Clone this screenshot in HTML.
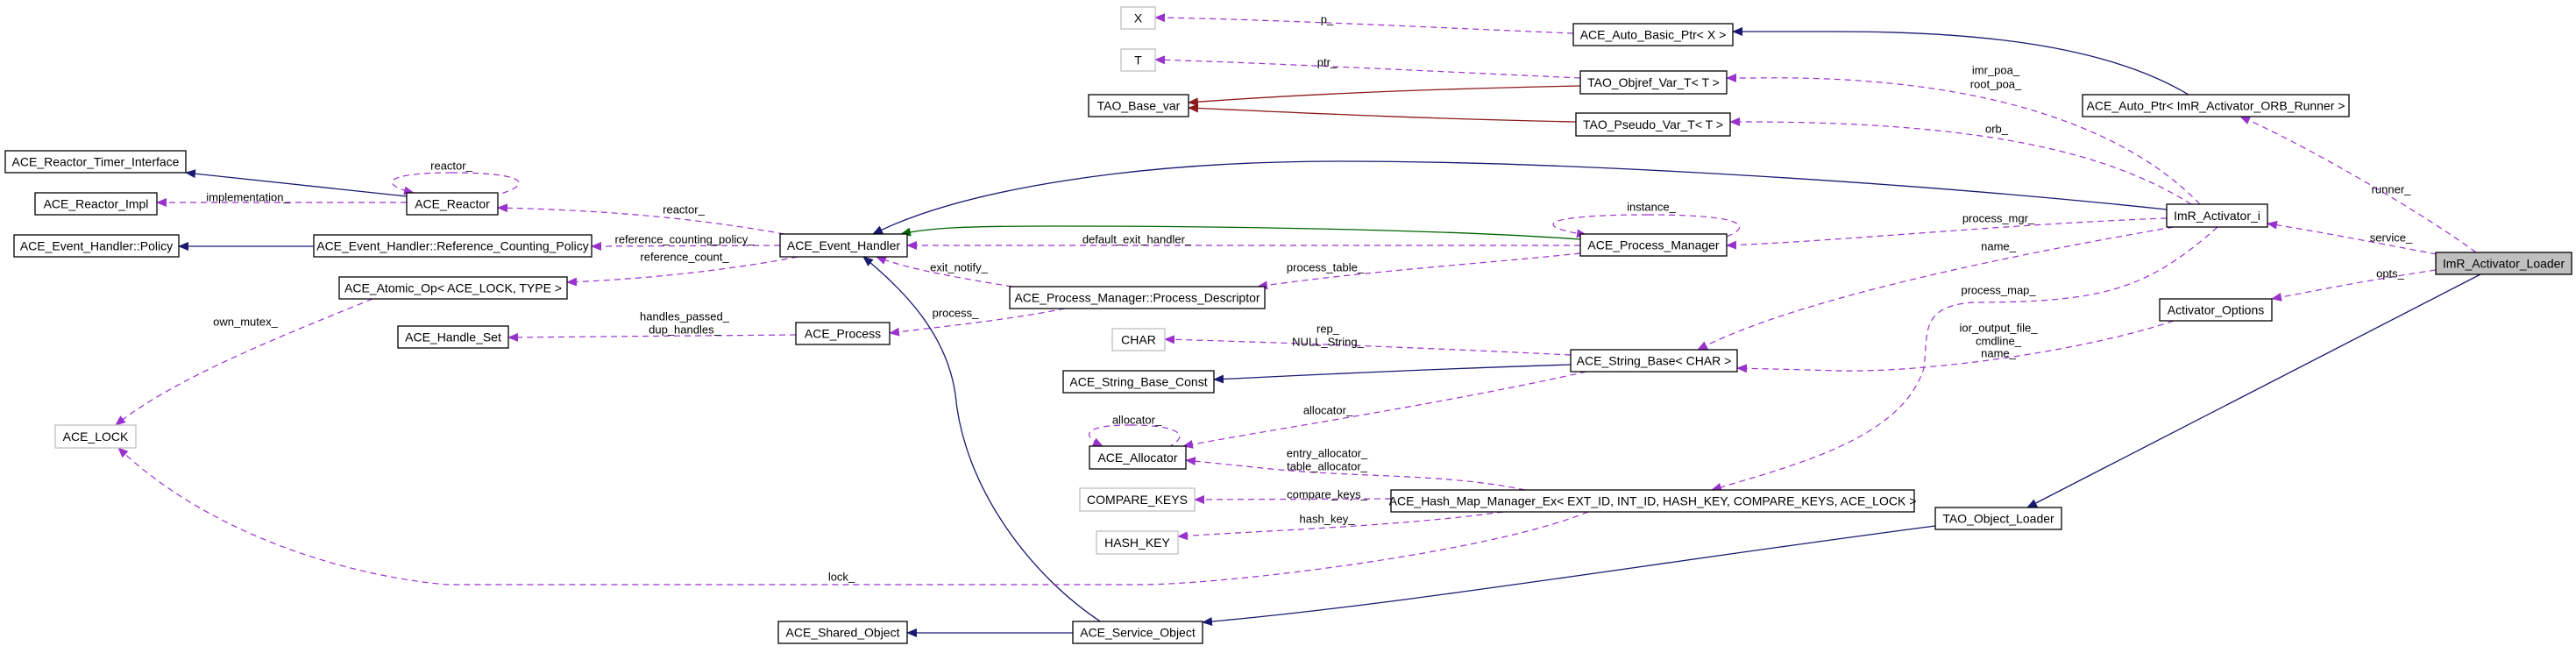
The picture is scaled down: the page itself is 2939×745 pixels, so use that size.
<!DOCTYPE html>
<html><head><meta charset="utf-8"><style>
html,body{margin:0;padding:0;background:#fff;}
svg{display:block;}
text{font-family:"Liberation Sans",sans-serif;}
.n{font-size:14px;text-anchor:middle;dominant-baseline:central;fill:#000;}
.l{font-size:13px;text-anchor:middle;dominant-baseline:central;fill:#000;}
.b{fill:#fff;stroke:#000;stroke-width:1.3;}
.g{fill:#fff;stroke:#bfbfbf;stroke-width:1.3;}
.d{fill:none;stroke:#9a32cd;stroke-width:1.2;stroke-dasharray:7,5;}
.s{fill:none;stroke:#191970;stroke-width:1.3;}
.gr{fill:none;stroke:#006400;stroke-width:1.3;}
.r{fill:none;stroke:#8b1a1a;stroke-width:1.3;}
</style></head><body>
<svg width="2939" height="745" viewBox="0 0 2939 745" xmlns="http://www.w3.org/2000/svg">
<defs>
<marker id="mp" markerWidth="12" markerHeight="10" refX="11" refY="5" orient="auto" markerUnits="userSpaceOnUse"><path d="M0,0 L12,5 L0,10 z" fill="#9a32cd"/></marker>
<marker id="mb" markerWidth="12" markerHeight="10" refX="11" refY="5" orient="auto" markerUnits="userSpaceOnUse"><path d="M0,0 L12,5 L0,10 z" fill="#191970"/></marker>
<marker id="mg" markerWidth="12" markerHeight="10" refX="11" refY="5" orient="auto" markerUnits="userSpaceOnUse"><path d="M0,0 L12,5 L0,10 z" fill="#006400"/></marker>
<marker id="mr" markerWidth="12" markerHeight="10" refX="11" refY="5" orient="auto" markerUnits="userSpaceOnUse"><path d="M0,0 L12,5 L0,10 z" fill="#8b1a1a"/></marker>
</defs>

<!-- edges -->
<path class="d" marker-end="url(#mp)" d="M1795,38 C1650,32 1450,22 1318,20"/>
<path class="d" marker-end="url(#mp)" d="M1803,89 C1650,82 1450,72 1318,68"/>
<path class="r" marker-end="url(#mr)" d="M1803,98 C1600,102 1450,110 1356,117"/>
<path class="r" marker-end="url(#mr)" d="M1798,139 C1600,135 1450,127 1356,123"/>
<path class="s" marker-end="url(#mb)" d="M2497,108 C2400,50 2250,36 2095,36 L1977,36"/>
<path class="d" marker-end="url(#mp)" d="M2510,233 C2420,140 2250,85 2000,89 L1970,89"/>
<path class="d" marker-end="url(#mp)" d="M2500,233 C2400,170 2250,140 2000,139 L1974,139"/>
<path class="s" marker-end="url(#mb)" d="M2472,239 C2200,210 1800,184 1530,184 C1300,184 1100,215 996,267"/>
<path class="gr" marker-end="url(#mg)" d="M1803,273 C1650,262 1400,258 1200,258 C1100,258 1060,260 1028,267"/>
<path class="d" marker-end="url(#mp)" d="M1803,280 L1035,280"/>
<path class="d" marker-end="url(#mp)" d="M1880,245 C1760,245 1745,258 1810,268"/>
<path class="d" d="M1880,245 C1990,245 2000,258 1970,270"/>
<path class="d" marker-end="url(#mp)" d="M1803,289 C1700,300 1550,310 1435,327"/>
<path class="d" marker-end="url(#mp)" d="M1155,327 C1080,315 1030,305 1000,293"/>
<path class="d" marker-end="url(#mp)" d="M1215,352 C1150,365 1080,372 1015,380"/>
<path class="d" marker-end="url(#mp)" d="M908,382 L580,385"/>
<path class="d" marker-end="url(#mp)" d="M2472,249 C2300,255 2100,275 1970,280"/>
<path class="d" marker-end="url(#mp)" d="M2480,259 C2300,290 2050,340 1937,399"/>
<path class="d" marker-end="url(#mp)" d="M2530,259 C2450,330 2400,345 2250,345 C2190,350 2200,380 2195,420 C2170,500 2050,530 1953,559"/>
<path class="d" marker-end="url(#mp)" d="M2480,366 C2380,400 2200,425 2100,423 L1982,420"/>
<path class="d" marker-end="url(#mp)" d="M2780,290 C2700,275 2650,265 2587,255"/>
<path class="d" marker-end="url(#mp)" d="M2825,288 C2760,240 2620,160 2556,133"/>
<path class="d" marker-end="url(#mp)" d="M2779,308 C2700,320 2650,330 2592,341"/>
<path class="s" marker-end="url(#mb)" d="M2830,313 L2313,579"/>
<path class="s" marker-end="url(#mb)" d="M2208,600 C1900,640 1600,690 1372,710"/>
<path class="s" marker-end="url(#mb)" d="M1224,722 L1035,722"/>
<path class="s" marker-end="url(#mb)" d="M1257,710 C1180,660 1100,560 1090,450 C1080,380 1030,330 985,293"/>
<path class="s" marker-end="url(#mb)" d="M1792,416 C1600,422 1450,430 1385,433"/>
<path class="d" marker-end="url(#mp)" d="M1792,405 C1650,398 1500,392 1329,387"/>
<path class="d" marker-end="url(#mp)" d="M1810,424 C1650,460 1450,490 1350,509"/>
<path class="d" marker-end="url(#mp)" d="M1290,485 C1240,485 1230,495 1258,509"/>
<path class="d" d="M1290,485 C1340,485 1360,495 1335,509"/>
<path class="d" marker-end="url(#mp)" d="M1740,559 C1650,540 1550,545 1450,535 L1353,525"/>
<path class="d" marker-end="url(#mp)" d="M1587,569 L1363,570"/>
<path class="d" marker-end="url(#mp)" d="M1715,584 C1600,600 1450,605 1344,612"/>
<path class="d" marker-end="url(#mp)" d="M1812,584 C1700,630 1400,667 1300,667 L511,667 C420,660 250,620 135,511"/>
<path class="d" marker-end="url(#mp)" d="M425,341 C330,380 200,430 132,485"/>
<path class="d" marker-end="url(#mp)" d="M910,293 C850,305 750,318 647,322"/>
<path class="d" marker-end="url(#mp)" d="M890,280 L675,281"/>
<path class="d" marker-end="url(#mp)" d="M895,267 C800,250 700,240 568,237"/>
<path class="d" marker-end="url(#mp)" d="M464,231 L179,231"/>
<path class="s" marker-end="url(#mb)" d="M464,224 L212,197"/>
<path class="d" marker-end="url(#mp)" d="M515,197 C440,197 430,210 472,220"/>
<path class="d" d="M515,197 C600,197 610,210 568,222"/>
<path class="s" marker-end="url(#mb)" d="M358,281 L204,281"/>

<!-- edge labels -->
<text class="l" x="1514" y="22">p_</text>
<text class="l" x="1514" y="71">ptr_</text>
<text class="l" x="2277" y="80">imr_poa_</text>
<text class="l" x="2277" y="96">root_poa_</text>
<text class="l" x="2278" y="147">orb_</text>
<text class="l" x="2728" y="216">runner_</text>
<text class="l" x="2728" y="271">service_</text>
<text class="l" x="2727" y="312">opts_</text>
<text class="l" x="2280" y="249">process_mgr_</text>
<text class="l" x="2280" y="281">name_</text>
<text class="l" x="2280" y="331">process_map_</text>
<text class="l" x="2280" y="374">ior_output_file_</text>
<text class="l" x="2280" y="389">cmdline_</text>
<text class="l" x="2280" y="403">name_</text>
<text class="l" x="1884" y="236">instance_</text>
<text class="l" x="1297" y="273">default_exit_handler_</text>
<text class="l" x="1512" y="305">process_table_</text>
<text class="l" x="1094" y="305">exit_notify_</text>
<text class="l" x="1090" y="357">process_</text>
<text class="l" x="781" y="361">handles_passed_</text>
<text class="l" x="781" y="376">dup_handles_</text>
<text class="l" x="1515" y="375">rep_</text>
<text class="l" x="1515" y="390">NULL_String_</text>
<text class="l" x="1515" y="468">allocator_</text>
<text class="l" x="1297" y="479">allocator_</text>
<text class="l" x="1514" y="517">entry_allocator_</text>
<text class="l" x="1514" y="532">table_allocator_</text>
<text class="l" x="1514" y="564">compare_keys_</text>
<text class="l" x="1514" y="592">hash_key_</text>
<text class="l" x="960" y="658">lock_</text>
<text class="l" x="280" y="367">own_mutex_</text>
<text class="l" x="781" y="293">reference_count_</text>
<text class="l" x="781" y="273">reference_counting_policy_</text>
<text class="l" x="780" y="239">reactor_</text>
<text class="l" x="283" y="225">implementation_</text>
<text class="l" x="515" y="189">reactor_</text>

<!-- nodes -->
<rect class="g" x="1279" y="8" width="39" height="25"/><text class="n" x="1298.5" y="20.5">X</text>
<rect class="g" x="1279" y="56" width="39" height="25"/><text class="n" x="1298.5" y="68.5">T</text>
<rect class="b" x="1795" y="27" width="182" height="25"/><text class="n" x="1886" y="39.5">ACE_Auto_Basic_Ptr&lt; X &gt;</text>
<rect class="b" x="1242" y="108" width="114" height="25"/><text class="n" x="1299" y="120.5">TAO_Base_var</text>
<rect class="b" x="1803" y="81" width="167" height="26"/><text class="n" x="1886.5" y="94">TAO_Objref_Var_T&lt; T &gt;</text>
<rect class="b" x="1798" y="129" width="176" height="26"/><text class="n" x="1886" y="142">TAO_Pseudo_Var_T&lt; T &gt;</text>
<rect class="b" x="2376" y="108" width="304" height="25"/><text class="n" x="2528" y="120.5">ACE_Auto_Ptr&lt; ImR_Activator_ORB_Runner &gt;</text>
<rect class="b" x="6" y="172" width="206" height="25"/><text class="n" x="109" y="184.5">ACE_Reactor_Timer_Interface</text>
<rect class="b" x="40" y="220" width="139" height="25"/><text class="n" x="109.5" y="232.5">ACE_Reactor_Impl</text>
<rect class="b" x="464" y="220" width="104" height="25"/><text class="n" x="516" y="232.5">ACE_Reactor</text>
<rect class="b" x="16" y="268" width="188" height="25"/><text class="n" x="110" y="280.5">ACE_Event_Handler::Policy</text>
<rect class="b" x="358" y="268" width="317" height="25"/><text class="n" x="516.5" y="280.5">ACE_Event_Handler::Reference_Counting_Policy</text>
<rect class="b" x="890" y="267" width="145" height="26"/><text class="n" x="962.5" y="280">ACE_Event_Handler</text>
<rect class="b" x="387" y="316" width="260" height="25"/><text class="n" x="517" y="328.5">ACE_Atomic_Op&lt; ACE_LOCK, TYPE &gt;</text>
<rect class="b" x="454" y="372" width="126" height="25"/><text class="n" x="517" y="384.5">ACE_Handle_Set</text>
<rect class="b" x="908" y="368" width="107" height="25"/><text class="n" x="961.5" y="380.5">ACE_Process</text>
<rect class="b" x="1152" y="327" width="291" height="25"/><text class="n" x="1297.5" y="339.5">ACE_Process_Manager::Process_Descriptor</text>
<rect class="b" x="1803" y="267" width="167" height="25"/><text class="n" x="1886.5" y="279.5">ACE_Process_Manager</text>
<rect class="b" x="2472" y="233" width="115" height="26"/><text class="n" x="2529.5" y="246">ImR_Activator_i</text>
<rect x="2779" y="288" width="155" height="25" fill="#bfbfbf" stroke="#000" stroke-width="1.3"/><text class="n" x="2856.5" y="300.5">ImR_Activator_Loader</text>
<rect class="b" x="2464" y="341" width="128" height="25"/><text class="n" x="2528" y="353.5">Activator_Options</text>
<rect class="g" x="1269" y="375" width="60" height="25"/><text class="n" x="1299" y="387.5">CHAR</text>
<rect class="b" x="1213" y="423" width="172" height="25"/><text class="n" x="1299" y="435.5">ACE_String_Base_Const</text>
<rect class="b" x="1792" y="399" width="190" height="25"/><text class="n" x="1887" y="411.5">ACE_String_Base&lt; CHAR &gt;</text>
<rect class="b" x="1243" y="509" width="110" height="26"/><text class="n" x="1298" y="522">ACE_Allocator</text>
<rect class="g" x="63" y="485" width="92" height="26"/><text class="n" x="109" y="498">ACE_LOCK</text>
<rect class="g" x="1232" y="557" width="131" height="26"/><text class="n" x="1297.5" y="570">COMPARE_KEYS</text>
<rect class="g" x="1251" y="606" width="93" height="26"/><text class="n" x="1297.5" y="619">HASH_KEY</text>
<rect class="b" x="1587" y="559" width="597" height="25"/><text class="n" x="1885.5" y="571.5">ACE_Hash_Map_Manager_Ex&lt; EXT_ID, INT_ID, HASH_KEY, COMPARE_KEYS, ACE_LOCK &gt;</text>
<rect class="b" x="2208" y="579" width="144" height="25"/><text class="n" x="2280" y="591.5">TAO_Object_Loader</text>
<rect class="b" x="1224" y="709" width="148" height="25"/><text class="n" x="1298" y="721.5">ACE_Service_Object</text>
<rect class="b" x="888" y="709" width="147" height="25"/><text class="n" x="961.5" y="721.5">ACE_Shared_Object</text>
</svg>
</body></html>
